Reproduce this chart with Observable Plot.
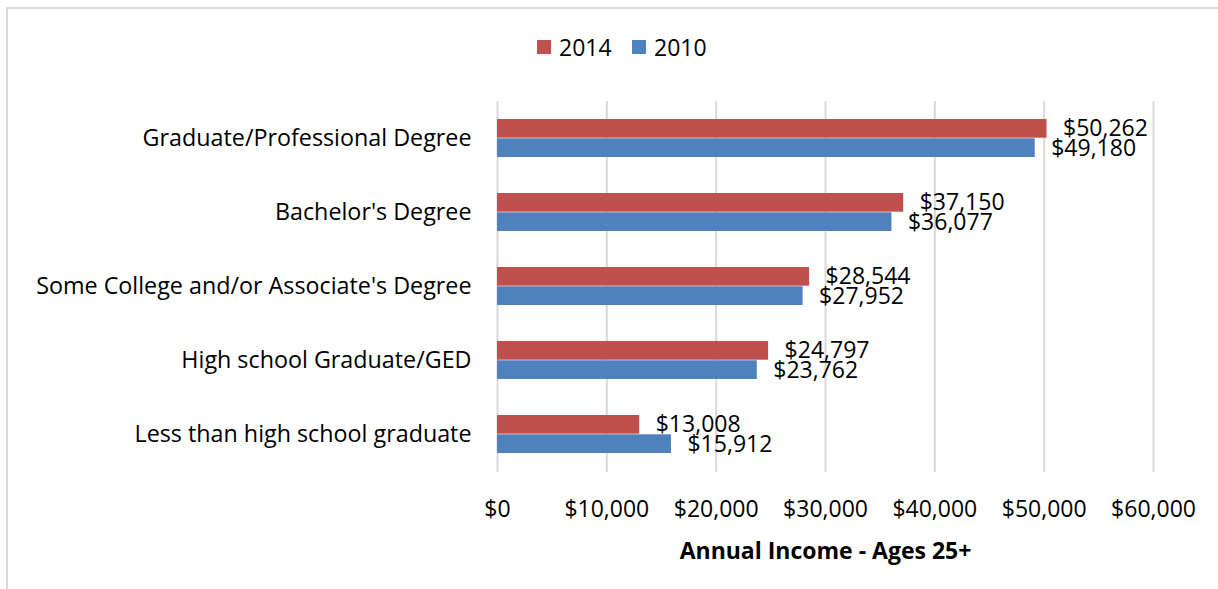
<!DOCTYPE html>
<html>
<head>
<meta charset="utf-8">
<script src="https://cdn.jsdelivr.net/npm/d3@7"></script>
<script src="https://cdn.jsdelivr.net/npm/@observablehq/plot@0.6"></script>
<style>
  body { margin: 0; background: #fff; }
  #wrap { position: relative; width: 1218px; height: 589px; overflow: hidden; background: #fff; font-family: "Open Sans", sans-serif; }
  #btop { position: absolute; left: 7px; top: 7px; width: 1211px; height: 2px; background: #d9d9d9; }
  #bleft { position: absolute; left: 6px; top: 7px; width: 2px; height: 582px; background: #d9d9d9; }
  #legend { position: absolute; left: 0; top: 0; width: 1218px; height: 89px; }
  .sw { position: absolute; width: 14px; height: 14px; top: 40px; }
  .lt { position: absolute; top: 31px; font-size: 23px; line-height: 32px; color: #000; }
  #chart { position: absolute; left: 0; top: 89px; }
  g[aria-label="x-axis label"] text { font-weight: bold; }
</style>
</head>
<body>
<div id="wrap">
  <div id="btop"></div>
  <div id="bleft"></div>
  <div id="legend"></div>
  <div id="chart"></div>
</div>
<script>
const categories = [
  "Graduate/Professional Degree",
  "Bachelor's Degree",
  "Some College and/or Associate's Degree",
  "High school Graduate/GED",
  "Less than high school graduate"
];
const series = ["2014", "2010"];
const values2014 = [50262, 37150, 28544, 24797, 13008];
const values2010 = [49180, 36077, 27952, 23762, 15912];
const colors = ["#C0504D", "#4F81BD"];
const xTicks = [0, 10000, 20000, 30000, 40000, 50000, 60000];
const xLabel = "Annual Income - Ages 25+";

const fmt = d => "$" + d3.format(",")(d);

const rows2014 = categories.map((c, i) => ({category: c, value: values2014[i]}));
const rows2010 = categories.map((c, i) => ({category: c, value: values2010[i]}));

// legend
const legend = document.getElementById("legend");
const legendPos = [[537, 559], [632, 654]];
series.forEach((s, i) => {
  const sw = document.createElement("div");
  sw.className = "sw";
  sw.style.left = legendPos[i][0] + "px";
  sw.style.background = colors[i];
  legend.appendChild(sw);
  const t = document.createElement("div");
  t.className = "lt";
  t.style.left = legendPos[i][1] + "px";
  t.textContent = s;
  legend.appendChild(t);
});

const half = 19.3;
const chart = Plot.plot({
  width: 1218,
  height: 500,
  marginTop: 12,
  marginBottom: 117,
  marginLeft: 497,
  marginRight: 65,
  style: {fontFamily: "Open Sans, sans-serif", fontSize: "22px", color: "#000", background: "transparent"},
  x: {domain: [0, 60000], ticks: xTicks},
  y: {domain: categories, paddingInner: 0.48, paddingOuter: 0.24},
  marks: [
    Plot.gridX(xTicks, {stroke: "#d9d9d9", strokeOpacity: 1, strokeWidth: 2}),
    Plot.barX(rows2014, {x: "value", y: "category", fill: colors[0], insetBottom: half, insetTop: 0}),
    Plot.barX(rows2010, {x: "value", y: "category", fill: colors[1], insetTop: half, insetBottom: 0}),
    Plot.text(rows2014, {x: "value", y: "category", text: d => fmt(d.value), textAnchor: "start", dx: 16, dy: -9.5, fontSize: 23, fill: "#000"}),
    Plot.text(rows2010, {x: "value", y: "category", text: d => fmt(d.value), textAnchor: "start", dx: 16, dy: 10.5, fontSize: 23, fill: "#000"}),
    Plot.axisY({tickSize: 0, tickPadding: 26, fontSize: 23.3, label: null}),
    Plot.axisX(xTicks, {tickSize: 0, tickPadding: 28, fontSize: 23, tickFormat: fmt, label: xLabel, labelAnchor: "center", labelOffset: 86, labelArrow: "none"})
  ]
});
document.getElementById("chart").appendChild(chart);
</script>
</body>
</html>
